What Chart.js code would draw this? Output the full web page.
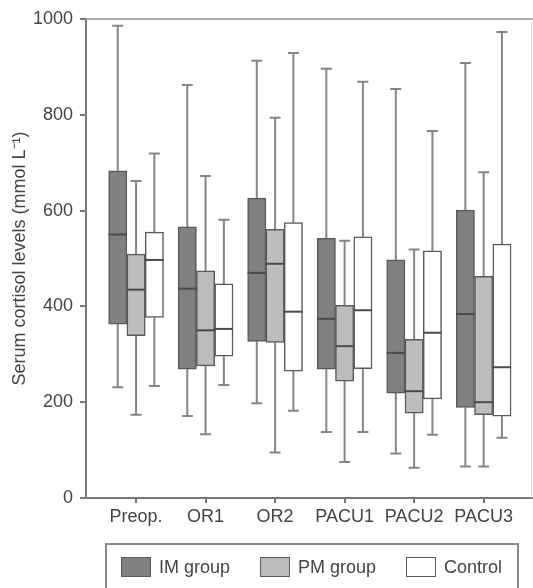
<!DOCTYPE html>
<html>
<head>
<meta charset="utf-8">
<script src="https://cdn.jsdelivr.net/npm/chart.js@4"></script>
<style>
  html, body { margin: 0; padding: 0; background: #fff; }
  #wrap { position: relative; width: 533px; height: 588px; overflow: hidden; }
  #legend {
    position: absolute; left: 105px; top: 543px; width: 414px; height: 60px;
    border: 2px solid #8a8a8a; display: flex; align-items: flex-start;
    padding: 12px 0 0 14px; gap: 30px; box-sizing: border-box;
    font: 18px "Liberation Sans", Arial, sans-serif; color: #444;
  }
  .legend-item { display: flex; align-items: center; height: 20px; }
  .swatch { width: 30px; height: 20px; box-sizing: border-box; border: 1.5px solid #5a5a5a; margin-right: 8px; }
</style>
</head>
<body>
<div id="wrap">
  <canvas id="chart" width="533" height="588"></canvas>
  <div id="legend"></div>
</div>
<script>
const categories = ["Preop.", "OR1", "OR2", "PACU1", "PACU2", "PACU3"];
const yTicks = [0, 200, 400, 600, 800, 1000];

// [min, q1, median, q3, max] per time point
const imGroup = [
  [231, 363, 550, 683, 986],
  [171, 269, 437, 566, 862],
  [198, 327, 470, 626, 913],
  [138, 269, 374, 542, 896],
  [93, 219, 303, 497, 854],
  [66, 189, 384, 601, 908],
];
const pmGroup = [
  [174, 339, 435, 509, 662],
  [133, 276, 350, 474, 672],
  [95, 325, 489, 561, 794],
  [75, 244, 317, 402, 537],
  [63, 177, 223, 331, 519],
  [66, 174, 200, 463, 680],
];
const controlGroup = [
  [234, 377, 497, 555, 719],
  [236, 296, 353, 447, 581],
  [182, 265, 389, 575, 929],
  [138, 270, 392, 545, 869],
  [132, 207, 345, 516, 766],
  [126, 171, 273, 530, 973],
];

const seriesNames = ["IM group", "PM group", "Control"];
const seriesFills = ["#808080", "#bdbdbd", "#ffffff"];
const seriesStats = [imGroup, pmGroup, controlGroup];

const FONT = '"Liberation Sans", Arial, sans-serif';
const AXIS = "#777";

function makeDataset(name, index) {
  const stats = seriesStats[index];
  return {
    label: name,
    stats,
    data: stats.map((row, i) => ({ x: i, y: [row[1], row[3]] })),
    backgroundColor: seriesFills[index],
    borderColor: "#5a5a5a",
    borderWidth: 1.5,
    borderSkipped: false,
    barThickness: 18.3,
  };
}

const boxPlotPlugin = {
  id: "box-plot",
  beforeDatasetsDraw(chart) {
    const { ctx, chartArea, scales: { y } } = chart;
    ctx.save();
    // top and right frame
    ctx.strokeStyle = "#aaa";
    ctx.lineWidth = 2;
    ctx.beginPath();
    ctx.moveTo(chartArea.left, chartArea.top);
    ctx.lineTo(chartArea.right, chartArea.top);
    ctx.stroke();
    ctx.strokeStyle = "#ddd";
    ctx.lineWidth = 1;
    ctx.beginPath();
    ctx.moveTo(chartArea.right - 1.5, chartArea.top);
    ctx.lineTo(chartArea.right - 1.5, chartArea.bottom);
    ctx.stroke();

    // whiskers
    ctx.strokeStyle = "#858585";
    ctx.lineWidth = 2;
    chart.data.datasets.forEach((ds, di) => {
      chart.getDatasetMeta(di).data.forEach((bar, i) => {
        const [lo, q1, , q3, hi] = ds.stats[i];
        const x = bar.x;
        const cap = 5.5;
        ctx.beginPath();
        ctx.moveTo(x, y.getPixelForValue(q3));
        ctx.lineTo(x, y.getPixelForValue(hi));
        ctx.moveTo(x, y.getPixelForValue(q1));
        ctx.lineTo(x, y.getPixelForValue(lo));
        ctx.moveTo(x - cap, y.getPixelForValue(hi));
        ctx.lineTo(x + cap, y.getPixelForValue(hi));
        ctx.moveTo(x - cap, y.getPixelForValue(lo));
        ctx.lineTo(x + cap, y.getPixelForValue(lo));
        ctx.stroke();
      });
    });
    ctx.restore();
  },
  afterDatasetsDraw(chart) {
    const { ctx, scales: { y } } = chart;
    ctx.save();
    ctx.strokeStyle = "#4a4a4a";
    ctx.lineWidth = 2;
    chart.data.datasets.forEach((ds, di) => {
      chart.getDatasetMeta(di).data.forEach((bar, i) => {
        const py = y.getPixelForValue(ds.stats[i][2]);
        ctx.beginPath();
        ctx.moveTo(bar.x - bar.width / 2, py);
        ctx.lineTo(bar.x + bar.width / 2, py);
        ctx.stroke();
      });
    });
    ctx.restore();
  },
};

new Chart(document.getElementById("chart"), {
  type: "bar",
  data: { datasets: seriesNames.map(makeDataset) },
  options: {
    responsive: false,
    animation: false,
    layout: { padding: { top: 19, right: 0, bottom: 0, left: 0 } },
    plugins: { legend: { display: false }, tooltip: { enabled: false } },
    scales: {
      x: {
        type: "linear",
        min: -0.72,
        max: 5.71,
        offset: false,
        afterBuildTicks: (scale) => { scale.ticks = categories.map((_, i) => ({ value: i })); },
        afterFit: (scale) => { scale.height = 90; },
        grid: { offset: false, drawOnChartArea: false, tickLength: 5, color: AXIS, lineWidth: 2 },
        border: { color: AXIS, width: 2 },
        ticks: {
          autoSkip: false,
          maxRotation: 0,
          padding: 3,
          color: "#444",
          font: { family: FONT, size: 18 },
          callback: (v) => categories[v] ?? "",
        },
      },
      y: {
        min: 0,
        max: 1000,
        afterBuildTicks: (scale) => { scale.ticks = yTicks.map((v) => ({ value: v })); },
        afterFit: (scale) => { scale.width = 86; },
        grid: { drawOnChartArea: false, tickLength: 6, color: AXIS, lineWidth: 2 },
        border: { color: AXIS, width: 2 },
        ticks: {
          padding: 7,
          color: "#444",
          font: { family: FONT, size: 18 },
          callback: (v) => String(v),
        },
        title: {
          display: true,
          text: "Serum cortisol levels (mmol L⁻¹)",
          color: "#444",
          font: { family: FONT, size: 18 },
          padding: { top: 9, bottom: 0 },
        },
      },
    },
  },
  plugins: [boxPlotPlugin],
});

document.getElementById("legend").innerHTML = seriesNames
  .map((name, i) => `
    <div class="legend-item">
      <div class="swatch" style="background:${seriesFills[i]}"></div>
      <span>${name}</span>
    </div>`)
  .join("");
</script>
</body>
</html>
